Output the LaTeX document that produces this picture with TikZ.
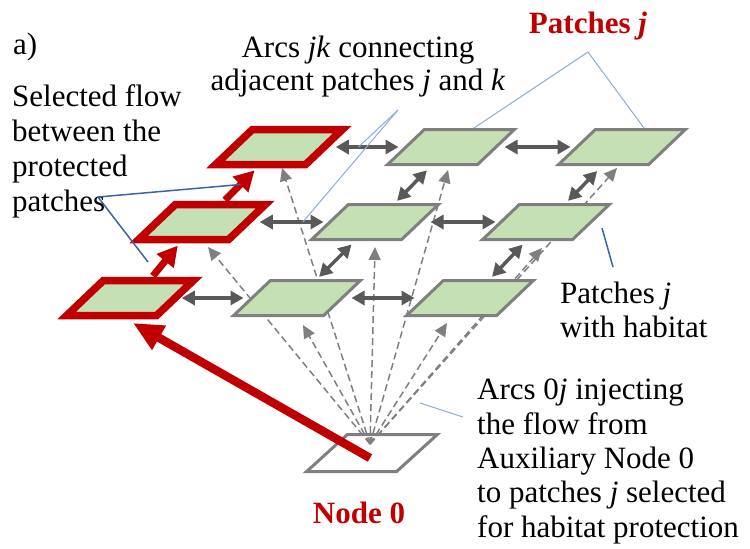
\documentclass[tikz,border=0pt]{standalone}
\usepackage{fontspec}
\setmainfont{Liberation Serif}
\usetikzlibrary{arrows.meta,calc}
\definecolor{pgreen}{HTML}{C5E0B4}
\definecolor{pgray}{HTML}{7F7F7F}
\definecolor{dgray}{HTML}{595959}
\definecolor{pred}{HTML}{C00000}
\definecolor{lblue}{HTML}{8FAADC}
\definecolor{dblue}{HTML}{3A64A8}
\pgfdeclarelayer{background}
\pgfsetlayers{background,main}
\begin{document}
\begin{tikzpicture}[x=1pt,y=-1pt,
  patchbase/.style={shape=rectangle, draw=pgray, fill=pgreen, line width=3pt,
    minimum width=90pt, minimum height=35pt, inner sep=0pt},
  patch/.style={patchbase, xslant=1.05},
  redpatch/.style={patch, draw=pred, line width=7.5pt},
  zeropatch/.style={patchbase, fill=white, minimum width=90pt, minimum height=37pt, xslant=1.1},
  adj/.style={draw=dgray, line width=3.5pt,
    {Triangle[length=13pt,width=14pt]}-{Triangle[length=13pt,width=14pt]}},
  inj/.style={draw=pgray, line width=1.5pt, dash pattern=on 7pt off 4pt,
    -{Triangle[length=13pt,width=12pt]}},
  flow/.style={draw=pred, line width=7pt, -{Triangle[length=20pt,width=21pt]}},
  bigflow/.style={draw=pred, line width=8.5pt, -{Triangle[length=30pt,width=26pt]}},
  callL/.style={draw=lblue, line width=1pt},
  callD/.style={draw=dblue, line width=1.5pt},
  txt/.style={font=\fontsize{31}{34.5}\selectfont, inner sep=0pt},
  redtxt/.style={font=\fontsize{31}{34.5}\selectfont\bfseries, text=pred, inner sep=0pt}
]
\useasboundingbox (0,0) rectangle (750,549);

% patches
\node[redpatch] (R1C1) at (279,147) {};
\node[patch]    (R1C2) at (451,147) {};
\node[patch]    (R1C3) at (622,147) {};
\node[redpatch] (R2C1) at (202,222) {};
\node[patch]    (R2C2) at (375,222) {};
\node[patch]    (R2C3) at (546,222) {};
\node[redpatch] (R3C1) at (130,298) {};
\node[patch]    (R3C2) at (297,298) {};
\node[patch]    (R3C3) at (470,298) {};

% auxiliary node 0 and injection arcs (behind the patches)
\begin{pgfonlayer}{background}
\node[zeropatch] (N0) at (372,453) {};
\coordinate (F) at (370,444);
\draw[inj] (F) -- ($(R1C1.center)+(3,21)$);
\draw[inj] (F) -- ($(R2C1.center)+(6,25)$);
\draw[inj] (F) -- ($(R1C2.center)+(-3,23)$);
\draw[inj] (F) -- ($(R2C2.center)+(0,25)$);
\draw[inj] (F) -- ($(R3C2.center)+(6,27)$);
\draw[inj] (F) -- ($(R3C3.center)+(-23,25)$);
\draw[inj] (F) -- ($(R2C3.center)+(-4,26)$);
\draw[inj] (F) -- ($(R1C3.center)+(-5,21)$);
\end{pgfonlayer}

% adjacency arcs
\draw[adj, shorten <=8pt, shorten >=6pt] (R1C1.east) -- (R1C2.west);
\draw[adj, shorten <=7pt, shorten >=5pt] (R1C2.east) -- (R1C3.west);
\draw[adj, shorten <=9pt, shorten >=5pt] (R2C1.east) -- (R2C2.west);
\draw[adj, shorten <=9pt, shorten >=4pt] (R2C2.east) -- (R2C3.west);
\draw[adj, shorten <=3pt, shorten >=7pt] (R3C1.east) -- (R3C2.west);
\draw[adj, shorten <=8pt, shorten >=9pt] (R3C2.east) -- (R3C3.west);
\draw[adj, shorten <=3pt, shorten >=6pt] (R2C2.north) -- (R1C2.south);
\draw[adj, shorten <=3pt, shorten >=5pt] (R3C2.north) -- (R2C2.south);
\draw[adj, shorten <=3pt, shorten >=7pt] (R2C3.north) -- (R1C3.south);
\draw[adj, shorten <=3pt, shorten >=5pt] (R3C3.north) -- (R2C3.south);

% selected flow
\draw[flow, shorten <=1pt, shorten >=3pt] (R3C1.north) -- (R2C1.south);
\draw[flow, shorten <=1pt, shorten >=3pt] (R2C1.north) -- (R1C1.south);
\coordinate (N0s) at ($(N0.center)+(-2,5)$);
\draw[bigflow] (N0s) -- ($(R3C1.center)+(3,25)$);

% labels
\node[txt, anchor=base west] (lblA) at (13,54) {a)};
\node[redtxt, anchor=base] (lblPj) at (588,33) {Patches \textit{j}};
\node[txt, anchor=north, align=center, font=\fontsize{31}{33}\selectfont] (lblArcs) at (358,36)
  {Arcs \textit{jk} connecting\\adjacent patches \textit{j} and \textit{k}};
\node[txt, anchor=north west, align=left, font=\fontsize{31}{35}\selectfont] (lblSel) at (12,84)
  {Selected flow\\between the\\protected\\patches};
\node[txt, anchor=north west, align=left, font=\fontsize{31}{34}\selectfont] (lblHab) at (560,282)
  {Patches \textit{j}\\with habitat};
\node[txt, anchor=north west, align=left, font=\fontsize{31}{34.3}\selectfont] (lblInj) at (477,379)
  {Arcs 0\textit{j} injecting\\the flow from\\Auxiliary Node 0\\to patches \textit{j} selected\\for habitat protection};
\node[redtxt, anchor=base] (lblN0) at (359,523) {Node 0};

% callout lines
\coordinate (cArcs) at (398,110);
\draw[callL] (cArcs) -- ($(R1C1.east)!0.4!(R1C2.west)$);
\draw[callL] (cArcs) -- ($(R2C1.east)!0.67!(R2C2.west)$);
\coordinate (cPj) at (588,52);
\draw[callL] (cPj) -- ($(R1C2.north)+(3,0)$);
\draw[callL] (cPj) -- ($(R1C3.north)+(2,0)$);
\coordinate (cSel) at (98,197);
\draw[callD] (cSel) -- ($(R2C1.north)!0.5!(R1C1.south)$);
\draw[callD] (cSel) -- ($(R3C1.center)+(18,-36)$);
\coordinate (cHab) at (613,267);
\draw[callD] ($(R2C3.center)+(56,6)$) -- (cHab);
\coordinate (cInj) at (463,417);
\draw[callL] (cInj) -- (420,403);
\end{tikzpicture}
\end{document}
